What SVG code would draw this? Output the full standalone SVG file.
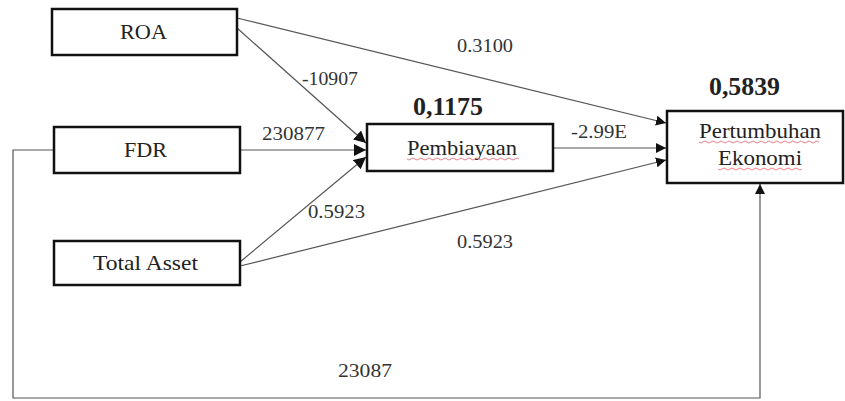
<svg xmlns="http://www.w3.org/2000/svg" width="845" height="401" viewBox="0 0 845 401">
<defs>
<marker id="ah" viewBox="0 0 10 10" refX="10" refY="5" markerWidth="10" markerHeight="10" markerUnits="userSpaceOnUse" orient="auto">
<path d="M0,0 L10,5 L0,10 z" fill="#111"/>
</marker>
<marker id="ahb" viewBox="0 0 10 10" refX="10" refY="5" markerWidth="12" markerHeight="12" markerUnits="userSpaceOnUse" orient="auto">
<path d="M0,0 L10,5 L0,10 z" fill="#111"/>
</marker>
</defs>
<style>
text{font-family:'Liberation Serif','Times New Roman',serif;fill:#222}
.box{fill:#fff;stroke:#111;stroke-width:2.5}
.lbl{font-size:21px}
.num{font-size:19px;fill:#333}
.r2{font-size:25px;font-weight:bold}
.ln{fill:none;stroke:#555;stroke-width:1.2}
.sq{fill:none;stroke:#e06070;stroke-width:0.8}
</style>
<rect width="845" height="401" fill="#fff"/>
<g id="connectors">
<path class="ln" d="M237,18 L666,123" marker-end="url(#ah)"/>
<path class="ln" d="M237,28 L366,143" marker-end="url(#ahb)"/>
<path class="ln" d="M240,150 L366,150" marker-end="url(#ahb)"/>
<path class="ln" d="M240,262 L366,157" marker-end="url(#ahb)"/>
<path class="ln" d="M553,148 L666,148" marker-end="url(#ah)"/>
<path class="ln" d="M240,266 L666,160" marker-end="url(#ah)"/>
<path class="ln" d="M54,150 L13,150 L13,398 L760,398 L760,184" marker-end="url(#ah)"/>
<text class="num" x="457" y="52" textLength="56" lengthAdjust="spacingAndGlyphs">0.3100</text>
<text class="num" x="302" y="85" textLength="56" lengthAdjust="spacingAndGlyphs">-10907</text>
<text class="num" x="262" y="140" textLength="63" lengthAdjust="spacingAndGlyphs">230877</text>
<text class="num" x="571" y="138" textLength="56" lengthAdjust="spacingAndGlyphs">-2.99E</text>
<text class="num" x="308" y="218" textLength="57" lengthAdjust="spacingAndGlyphs">0.5923</text>
<text class="num" x="457" y="248" textLength="56" lengthAdjust="spacingAndGlyphs">0.5923</text>
<text class="num" x="338" y="377" textLength="54" lengthAdjust="spacingAndGlyphs">23087</text>
</g>
<g id="roa">
<rect class="box" x="52" y="9" width="185" height="46"/>
<text class="lbl" x="120" y="39" textLength="47" lengthAdjust="spacingAndGlyphs">ROA</text>
</g>
<g id="fdr">
<rect class="box" x="54" y="127" width="186" height="46"/>
<text class="lbl" x="124" y="157" textLength="43" lengthAdjust="spacingAndGlyphs">FDR</text>
</g>
<g id="total-asset">
<rect class="box" x="54" y="241" width="186" height="44"/>
<text class="lbl" x="93" y="270" textLength="105" lengthAdjust="spacingAndGlyphs">Total Asset</text>
</g>
<g id="pembiayaan">
<text class="r2" x="413" y="115" textLength="70" lengthAdjust="spacingAndGlyphs">0,1175</text>
<rect class="box" x="367" y="124" width="186" height="47"/>
<text class="lbl" x="407" y="155" textLength="110" lengthAdjust="spacingAndGlyphs">Pembiayaan</text>
<path class="sq" d="M407,159 q2,2 4,0 t4,0 t4,0 t4,0 t4,0 t4,0 t4,0 t4,0 t4,0 t4,0 t4,0 t4,0 t4,0 t4,0 t4,0 t4,0 t4,0 t4,0 t4,0 t4,0 t4,0 t4,0 t4,0 t4,0 t4,0 t4,0 t4,0 t4,0"/>
</g>
<g id="pertumbuhan-ekonomi">
<text class="r2" x="709" y="95" textLength="71" lengthAdjust="spacingAndGlyphs">0,5839</text>
<rect class="box" x="667" y="111" width="176" height="72"/>
<text class="lbl" x="699" y="138" textLength="122" lengthAdjust="spacingAndGlyphs">Pertumbuhan</text>
<text class="lbl" x="718" y="165" textLength="84" lengthAdjust="spacingAndGlyphs">Ekonomi</text>
<path class="sq" d="M699,142 q2,2 4,0 t4,0 t4,0 t4,0 t4,0 t4,0 t4,0 t4,0 t4,0 t4,0 t4,0 t4,0 t4,0 t4,0 t4,0 t4,0 t4,0 t4,0 t4,0 t4,0 t4,0 t4,0 t4,0 t4,0 t4,0 t4,0 t4,0 t4,0 t4,0 t4,0"/>
<path class="sq" d="M718,169 q2,2 4,0 t4,0 t4,0 t4,0 t4,0 t4,0 t4,0 t4,0 t4,0 t4,0 t4,0 t4,0 t4,0 t4,0 t4,0 t4,0 t4,0 t4,0 t4,0 t4,0 t4,0"/>
</g>
</svg>
